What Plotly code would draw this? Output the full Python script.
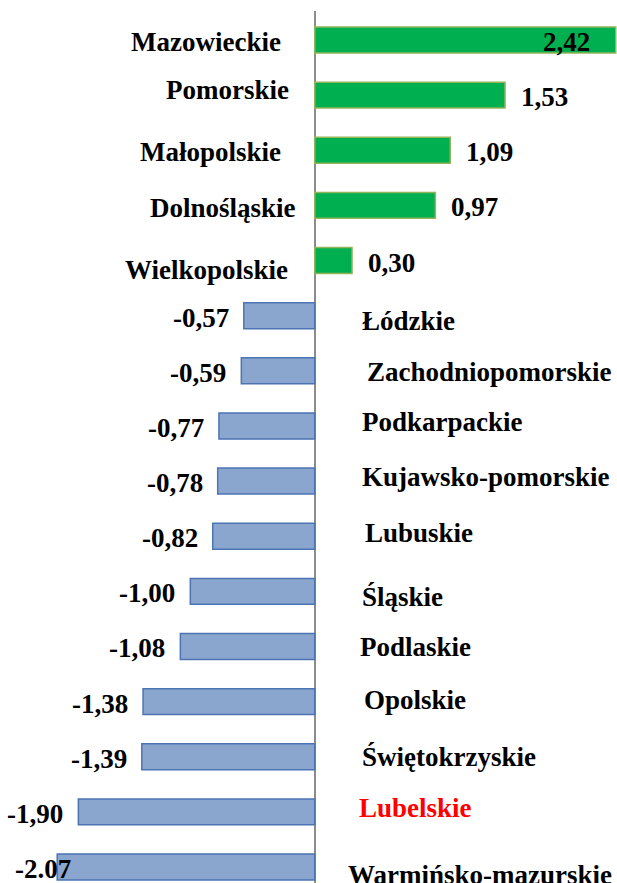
import plotly.graph_objects as go

regions = ["Mazowieckie", "Pomorskie", "Małopolskie", "Dolnośląskie", "Wielkopolskie",
           "Łódzkie", "Zachodniopomorskie", "Podkarpackie", "Kujawsko-pomorskie", "Lubuskie",
           "Śląskie", "Podlaskie", "Opolskie", "Świętokrzyskie", "Lubelskie", "Warmińsko-mazurskie"]
values = [2.42, 1.53, 1.09, 0.97, 0.30, -0.57, -0.59, -0.77, -0.78, -0.82,
          -1.00, -1.08, -1.38, -1.39, -1.90, -2.07]
value_labels = ["2,42", "1,53", "1,09", "0,97", "0,30", "-0,57", "-0,59", "-0,77", "-0,78", "-0,82",
                "-1,00", "-1,08", "-1,38", "-1,39", "-1,90", "-2.07"]
highlight = "Lubelskie"

# hand-placed label nudges (px), like in the original spreadsheet
name_dx = [-32, -24, -32, -17, -25, 45, 50, 45, 45, 48, 45, 43, 47, 45, 42, 31]
name_dy = [-2, 5, -2, -3, -9, -5, -1, 4, 4, 3, -6, -1, 2, 0, 4, -8]

font = "Times New Roman, Liberation Serif, DejaVu Serif, serif"
fs = 27

fig = go.Figure()
fig.add_trace(go.Bar(
    y=regions, x=values, orientation="h",
    marker=dict(
        color=["#00B050" if v > 0 else "#8BA6CE" for v in values],
        line=dict(color=["#93B45A" if v > 0 else "#4C74B3" for v in values], width=1.5),
    ),
    hoverinfo="skip",
))

ann = []
for i, (r, v, t) in enumerate(zip(regions, values, value_labels)):
    # region name on the opposite side of the axis
    ann.append(dict(
        x=0, y=r, xref="x", yref="y", text="<b>%s</b>" % r, showarrow=False,
        xanchor="right" if v > 0 else "left", xshift=name_dx[i], yshift=name_dy[i],
        font=dict(family=font, size=fs, color="red" if r == highlight else "black"),
    ))
    # value label at the end of the bar
    if i == 0:
        anchor, dx = "right", -24
    elif v > 0:
        anchor, dx = "left", 14
    elif i == len(values) - 1:
        anchor, dx = "right", 16
    else:
        anchor, dx = "right", -13
    ann.append(dict(
        x=v, y=r, xref="x", yref="y", text="<b>%s</b>" % t, showarrow=False,
        xanchor=anchor, xshift=dx, yshift=-2,
        font=dict(family=font, size=fs, color="black"),
    ))

fig.update_layout(
    width=617, height=883,
    margin=dict(l=0, r=0, t=11, b=0),
    paper_bgcolor="white", plot_bgcolor="white",
    showlegend=False,
    bargap=0.53,
    annotations=ann,
    xaxis=dict(range=[-2.53, 2.43], showgrid=False, showticklabels=False, ticks="",
               zeroline=True, zerolinecolor="#8C8C8C", zerolinewidth=2, fixedrange=True),
    yaxis=dict(range=[15.29, -0.526], showgrid=False, showticklabels=False, ticks="",
               zeroline=False, fixedrange=True),
)

fig.write_html("out.html", config={"displayModeBar": False},
               post_script="document.body.style.margin='0';")
